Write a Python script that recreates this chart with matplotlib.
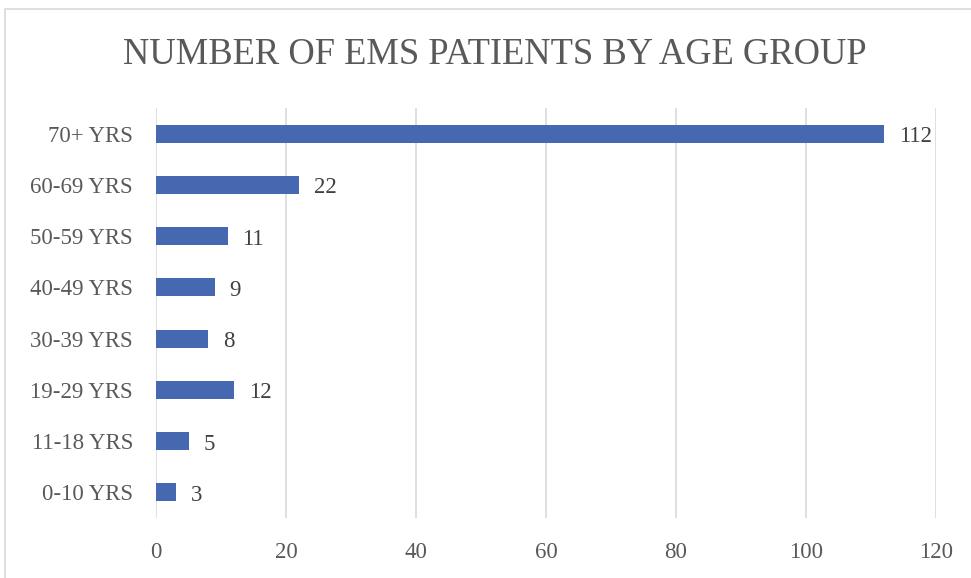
import matplotlib
matplotlib.use("Agg")
import matplotlib.pyplot as plt
from matplotlib.patches import Rectangle

groups = ["0-10 YRS", "11-18 YRS", "19-29 YRS", "30-39 YRS",
          "40-49 YRS", "50-59 YRS", "60-69 YRS", "70+ YRS"]
patients = [3, 5, 12, 8, 9, 11, 22, 112]
xticks = [0, 20, 40, 60, 80, 100, 120]

TXT = "#595959"
BAR = "#4568B0"
GRID = "#d9d9d9"
FONT = "Liberation Serif"

W, H = 971, 578
fig = plt.figure(figsize=(W / 100, H / 100), dpi=100)
fig.patches.append(Rectangle((5 / W, -0.01), 1.02, 1 - 9 / H + 0.01,
                             transform=fig.transFigure, fill=False,
                             edgecolor=GRID, linewidth=1.2))

ax = fig.add_axes([156 / W, 1 - 518 / H, (936 - 156) / W, (518 - 108) / H])
ypos = range(len(groups))
ax.barh(ypos, patients, height=0.35, color=BAR)
for y, v in zip(ypos, patients):
    ax.text(v + 2.3, y - 0.06, str(v), va="center", ha="left",
            fontsize=16.5, color="#404040", family=FONT)

ax.set_xlim(0, 120)
ax.set_ylim(-0.5, len(groups) - 0.5)
ax.set_xticks(xticks)
ax.set_yticks(list(ypos))
ax.set_yticklabels(groups)
ax.grid(axis="x", color=GRID, linewidth=1.2)
ax.set_axisbelow(True)
for s in ax.spines.values():
    s.set_visible(False)
ax.tick_params(length=0, colors=TXT, labelsize=16.5)
ax.tick_params(axis="x", pad=17)
ax.tick_params(axis="y", pad=16.5)
for lab in ax.get_xticklabels() + ax.get_yticklabels():
    lab.set_family(FONT)

fig.text(495 / W, 1 - 55 / H, "NUMBER OF EMS PATIENTS BY AGE GROUP",
         ha="center", va="center", fontsize=26.3, color=TXT, family=FONT)

fig.savefig("out.png", dpi=100)
